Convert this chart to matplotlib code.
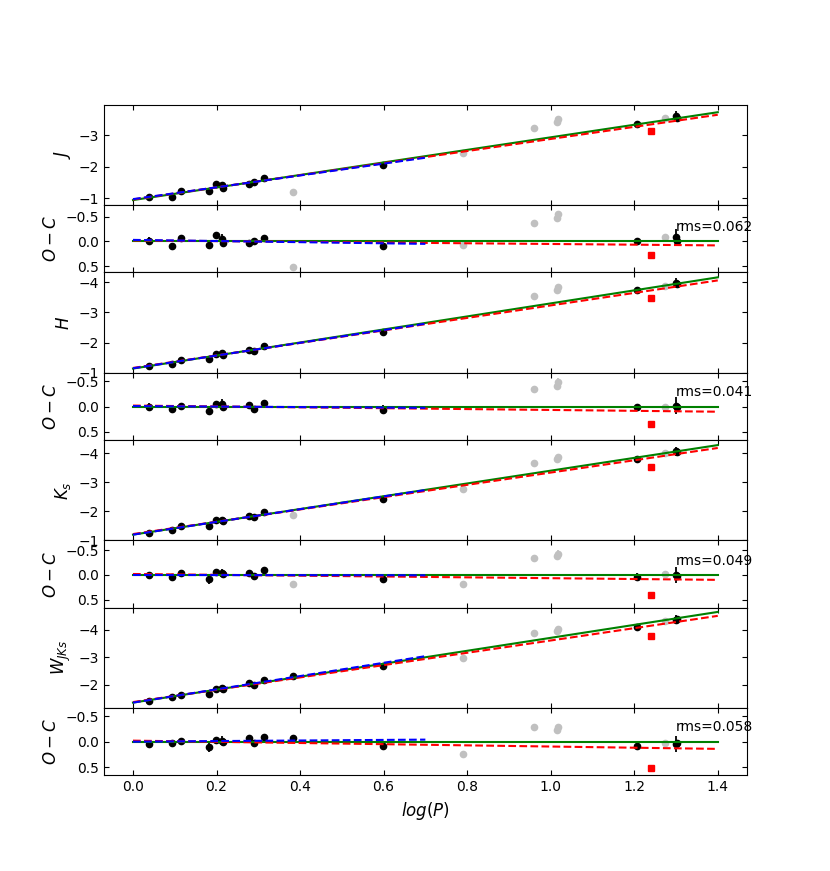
import numpy as np
import matplotlib
matplotlib.use('Agg')
import matplotlib.pyplot as plt
from matplotlib.ticker import MultipleLocator

# log(P) of the calibrating stars (black), shared by all bands
x_blk = [0.038, 0.093, 0.116, 0.181, 0.199, 0.212, 0.215, 0.277, 0.289, 0.314, 0.598, 1.207, 1.300, 1.303]
err_blk = [0.08, 0.03, 0.03, 0.09, 0.03, 0.09, 0.05, 0.05, 0.03, 0.03, 0.09, 0.07, 0.16, 0.06]

# O-C residuals of the black points, per band
res_J = [-0.01, 0.09, -0.06, 0.07, -0.12, -0.05, 0.03, 0.03, -0.01, -0.07, 0.09, 0.00, -0.08, 0.00]
res_H = [0.00, 0.05, -0.02, 0.08, -0.05, -0.06, 0.01, -0.03, 0.045, -0.065, 0.065, 0.01, -0.02, 0.00]
res_K = [0.01, 0.05, -0.04, 0.09, -0.07, -0.04, -0.01, -0.03, 0.014, -0.10, 0.074, 0.04, 0.00, 0.02]
res_W = [0.04, 0.02, -0.01, 0.105, -0.03, -0.015, 0.01, -0.07, 0.03, -0.10, 0.08, 0.09, 0.04, 0.03]

# extra black point only in W
x_blk_extra = {'W': [0.382]}
res_blk_extra = {'W': [-0.07]}

# excluded stars (grey)
x_grey = {'J': [0.382, 0.791, 0.960, 1.014, 1.018, 1.274],
          'H': [0.960, 1.014, 1.018, 1.274],
          'K': [0.382, 0.791, 0.960, 1.014, 1.018, 1.274],
          'W': [0.791, 0.960, 1.014, 1.018, 1.274]}
res_grey = {'J': [0.51, 0.07, -0.37, -0.47, -0.55, -0.08],
            'H': [-0.34, -0.41, -0.49, 0.00],
            'K': [0.176, 0.176, -0.34, -0.38, -0.43, -0.02],
            'W': [0.24, -0.28, -0.23, -0.28, 0.03]}
err_grey = {'J': [0.02, 0.02, 0.02, 0.07, 0.07, 0.05],
            'H': [0.02, 0.07, 0.07, 0.05],
            'K': [0.02, 0.02, 0.02, 0.07, 0.07, 0.05],
            'W': [0.02, 0.02, 0.07, 0.07, 0.05]}

# red square
x_red = 1.239
res_red = {'J': 0.27, 'H': 0.35, 'K': 0.41, 'W': 0.51}
err_red = 0.06

# linear fits (intercept, slope)
fit_green = {'J': (-0.95, -1.99), 'H': (-1.14, -2.157), 'K': (-1.20, -2.20), 'W': (-1.35, -2.35)}
fit_red = {'J': (-0.97, -1.918), 'H': (-1.16, -2.07), 'K': (-1.22, -2.115), 'W': (-1.37, -2.234)}
fit_blue = {'J': (-0.98, -1.876), 'H': (-1.15, -2.107), 'K': (-1.20, -2.19), 'W': (-1.35, -2.407)}

rms = {'J': '0.062', 'H': '0.041', 'K': '0.049', 'W': '0.058'}
labels = {'J': '$J$', 'H': '$H$', 'K': '$K_s$', 'W': '$W_{JKs}$'}
bands = ['J', 'H', 'K', 'W']
res_blk = {'J': res_J, 'H': res_H, 'K': res_K, 'W': res_W}

ylim_main = {'J': (-0.79, -3.98), 'H': (-1.0, -4.33), 'K': (-1.0, -4.46), 'W': (-1.15, -4.8)}
ylim_res = {'J': (0.62, -0.73), 'H': (0.66, -0.67), 'K': (0.66, -0.70), 'W': (0.66, -0.66)}

x_line = np.array([0.0, 1.4])
x_blue = np.array([0.0, 0.7])


def line(fit, x):
    return fit[0] + fit[1] * x


fig = plt.figure(figsize=(8.3, 8.71), dpi=100)
gs = fig.add_gridspec(8, 1, height_ratios=[1.5, 1] * 4, hspace=0)
axes = [fig.add_subplot(gs[i]) for i in range(8)]

ms = 4.5
for i, b in enumerate(bands):
    ax = axes[2 * i]
    axr = axes[2 * i + 1]
    g = fit_green[b]

    xb = np.array(x_blk + x_blk_extra.get(b, []))
    rb = np.array(res_blk[b] + res_blk_extra.get(b, []))
    eb = np.array(err_blk + [0.03] * len(x_blk_extra.get(b, [])))
    xg = np.array(x_grey[b])
    rg = np.array(res_grey[b])
    eg = np.array(err_grey[b])

    # main panel: magnitudes
    ax.errorbar(xg, line(g, xg) + rg, yerr=eg, fmt='o', color='silver', ms=ms, elinewidth=1.3, zorder=2)
    ax.errorbar(xb, line(g, xb) + rb, yerr=eb, fmt='o', color='k', ms=ms, elinewidth=1.3, zorder=3)
    ax.errorbar([x_red], [line(g, x_red) + res_red[b]], yerr=[err_red], fmt='s', color='r', ms=ms,
                elinewidth=1.3, zorder=3)
    ax.plot(x_line, line(g, x_line), 'g-', lw=1.5, zorder=4)
    ax.plot(x_line, line(fit_red[b], x_line), 'r--', lw=1.5, zorder=4)
    ax.plot(x_blue, line(fit_blue[b], x_blue), 'b--', lw=1.5, zorder=4)
    ax.set_ylim(*ylim_main[b])
    ax.yaxis.set_major_locator(MultipleLocator(1))
    ax.set_ylabel(labels[b], fontsize=12)

    # residual panel
    axr.errorbar(xg, rg, yerr=eg, fmt='o', color='silver', ms=ms, elinewidth=1.3, zorder=2)
    axr.errorbar(xb, rb, yerr=eb, fmt='o', color='k', ms=ms, elinewidth=1.3, zorder=3)
    axr.errorbar([x_red], [res_red[b]], yerr=[err_red], fmt='s', color='r', ms=ms, elinewidth=1.3, zorder=3)
    axr.plot(x_line, line(g, x_line) - line(g, x_line), 'g-', lw=1.5, zorder=4)
    axr.plot(x_line, line(fit_red[b], x_line) - line(g, x_line), 'r--', lw=1.5, zorder=4)
    axr.plot(x_blue, line(fit_blue[b], x_blue) - line(g, x_blue), 'b--', lw=1.5, zorder=4)
    axr.set_ylim(*ylim_res[b])
    axr.set_yticks([-0.5, 0.0, 0.5])
    axr.set_ylabel('$O-C$', fontsize=12)
    axr.text(1.30, -0.2, 'rms=' + rms[b], fontsize=10)

for ax in axes:
    ax.set_xlim(-0.07, 1.47)
    ax.tick_params(direction='in', top=True, right=True)
    if ax is not axes[-1]:
        ax.tick_params(labelbottom=False)

axes[-1].set_xlabel('$log(P)$', fontsize=12)

fig.savefig('out.png', dpi=100)
